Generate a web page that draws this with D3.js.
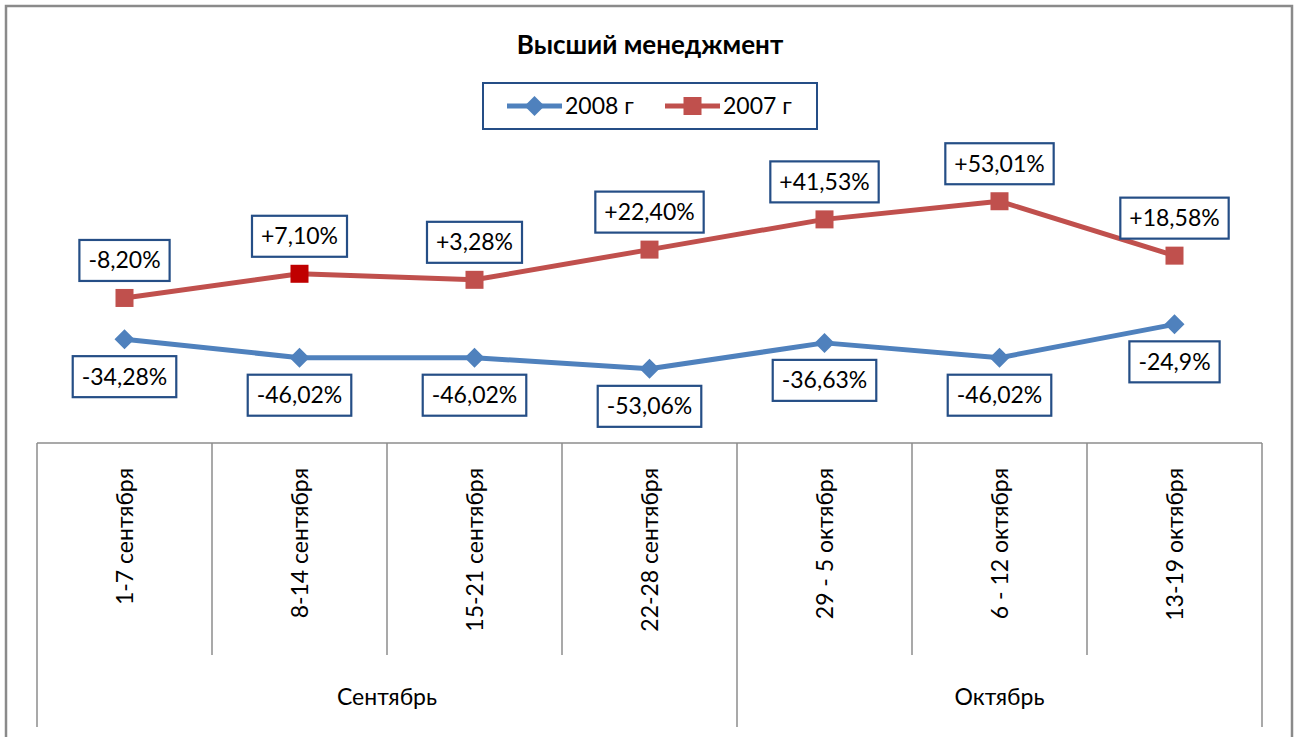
<!DOCTYPE html>
<html><head><meta charset="utf-8">
<script src="https://cdn.jsdelivr.net/npm/d3@7"></script>
<style>
html,body{margin:0;padding:0;background:#fff;}
svg{display:block;font-family:Lato,"Open Sans",sans-serif;}
</style></head>
<body><svg id="c" width="1299" height="737"></svg>
<script>
const categories = ["1-7 сентября","8-14 сентября","15-21 сентября","22-28 сентября","29 - 5 октября","6 - 12 октября","13-19 октября"];
const months = ["Сентябрь","Октябрь"];
const monthSpans = [[0,3],[4,6]];
const series2008 = [-34.28,-46.02,-46.02,-53.06,-36.63,-46.02,-24.9];
const series2007 = [-8.20,7.10,3.28,22.40,41.53,53.01,18.58];
const labels2008 = ["-34,28%","-46,02%","-46,02%","-53,06%","-36,63%","-46,02%","-24,9%"];
const labels2007 = ["-8,20%","+7,10%","+3,28%","+22,40%","+41,53%","+53,01%","+18,58%"];
const seriesNames = ["2008 г","2007 г"];
const title = "Высший менеджмент";

const svg = d3.select("#c");
const BLUE = "#4F81BD", RED = "#C0504D", RED_HI = "#C00000", BOX = "#254E86", AX = "#8C8C8C";

// outer chart border
svg.append("path").attr("d","M6,745 V6 H1292 V745").attr("fill","none").attr("stroke","#8a8a8a").attr("stroke-width",2.5);

const x = d3.scaleBand().domain(categories).range([37,1262]).padding(0);
const y = d3.scaleLinear().domain([-100,100]).range([443,127]);
const cx = d => x(d) + x.bandwidth()/2;

// title
svg.append("text").attr("x",650).attr("y",54).attr("text-anchor","middle")
  .attr("font-weight","bold").attr("font-size",26).attr("fill","#000").text(title);

// category axis
const ax = svg.append("g");
ax.append("line").attr("x1",x.range()[0]).attr("x2",x.range()[1]).attr("y1",443).attr("y2",443).attr("stroke",AX).attr("stroke-width",1.5);
const bounds = categories.map(c=>x(c)).concat([x.range()[1]]);
const longIdx = new Set([0]);
monthSpans.forEach(s=>longIdx.add(s[1]+1));
bounds.forEach((bx,i)=>{
  ax.append("line").attr("x1",bx).attr("x2",bx).attr("y1",443).attr("y2",longIdx.has(i)?727:655)
    .attr("stroke",AX).attr("stroke-width",1.5);
});
categories.forEach(c=>{
  ax.append("text").attr("transform",`translate(${cx(c)+8},468) rotate(-90)`)
    .attr("text-anchor","end").attr("font-size",23).attr("fill","#000").text(c);
});
months.forEach((m,i)=>{
  const a = x(categories[monthSpans[i][0]]), b = x(categories[monthSpans[i][1]]) + x.bandwidth();
  ax.append("text").attr("x",(a+b)/2).attr("y",705).attr("text-anchor","middle")
    .attr("font-size",23).attr("fill","#000").text(m);
});

const line = d3.line().x((d,i)=>cx(categories[i])).y(d=>y(d));
svg.append("path").attr("d",line(series2008)).attr("fill","none").attr("stroke",BLUE).attr("stroke-width",5).attr("stroke-linejoin","round");
svg.append("path").attr("d",line(series2007)).attr("fill","none").attr("stroke",RED).attr("stroke-width",5).attr("stroke-linejoin","round");

const diamond = (px,py,r) => `M${px},${py-r}L${px+r},${py}L${px},${py+r}L${px-r},${py}Z`;
series2008.forEach((v,i)=>{
  svg.append("path").attr("d",diamond(cx(categories[i]),y(v),10)).attr("fill",BLUE);
});
series2007.forEach((v,i)=>{
  svg.append("rect").attr("x",cx(categories[i])-9).attr("y",y(v)-9).attr("width",18).attr("height",18)
    .attr("fill", i===1?RED_HI:RED);
});

// data labels
function label(px, py, txt, above){
  const g = svg.append("g");
  const t = g.append("text").attr("font-size",23).attr("fill","#000").attr("text-anchor","middle").text(txt);
  const w = t.node().getComputedTextLength() + 18, h = 41;
  const top = above ? py - 17 - h : py + 17;
  g.insert("rect","text").attr("x",px-w/2).attr("y",top).attr("width",w).attr("height",h)
    .attr("fill","#fff").attr("stroke",BOX).attr("stroke-width",2.2);
  t.attr("x",px).attr("y",top+h/2+8);
}
series2007.forEach((v,i)=>label(cx(categories[i]),y(v),labels2007[i],true));
series2008.forEach((v,i)=>label(cx(categories[i]),y(v),labels2008[i],false));

// legend
const lg = svg.append("g");
lg.append("rect").attr("x",483).attr("y",83).attr("width",334).attr("height",46).attr("fill","#fff").attr("stroke",BOX).attr("stroke-width",2);
const items = [{n:seriesNames[0],c:BLUE,m:"d",x0:507},{n:seriesNames[1],c:RED,m:"s",x0:665}];
items.forEach(it=>{
  lg.append("line").attr("x1",it.x0).attr("x2",it.x0+55).attr("y1",106).attr("y2",106).attr("stroke",it.c).attr("stroke-width",5);
  if(it.m==="d") lg.append("path").attr("d",diamond(it.x0+27.5,106,10)).attr("fill",it.c);
  else lg.append("rect").attr("x",it.x0+27.5-9).attr("y",97).attr("width",18).attr("height",18).attr("fill",it.c);
  lg.append("text").attr("x",it.x0+58).attr("y",114).attr("font-size",23).attr("fill","#000").text(it.n);
});
</script></body></html>
